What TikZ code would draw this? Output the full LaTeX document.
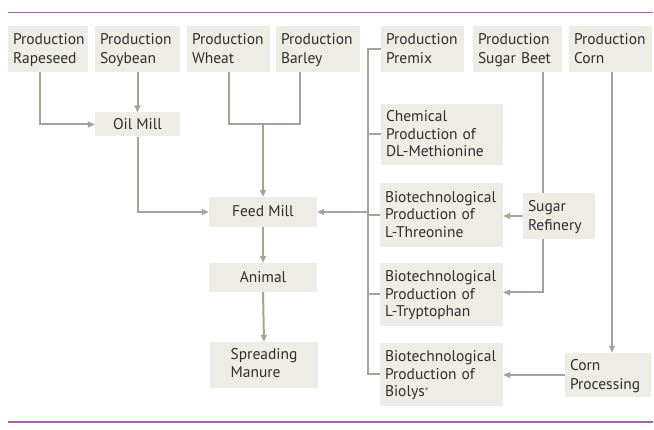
\documentclass[tikz,border=0pt]{standalone}
\usepackage{fontspec}
\setmainfont{PT Sans}
\usetikzlibrary{arrows.meta}
\definecolor{boxfill}{HTML}{EDEDE5}
\definecolor{linec}{HTML}{A5A39B}
\definecolor{purp}{HTML}{A566A8}
\definecolor{txt}{HTML}{2E2E2E}
\newcommand\boxstrut{\vrule height 14pt depth 4pt width 0pt}
\tikzset{
  box/.style={fill=boxfill, draw=none, inner xsep=5pt, inner ysep=0pt, align=left,
    font=\fontsize{15.5}{17.5}\selectfont, text=txt,
    execute at begin node=\boxstrut, execute at end node=\boxstrut},
  cbox/.style={box, align=center},
  conn/.style={draw=linec, line width=2pt},
  arr/.style={conn, -{Triangle[length=7pt,width=6pt]}},
  rule/.style={draw=purp, line width=1.5pt}
}
\begin{document}
\begin{tikzpicture}[x=1pt,y=-1pt]
\useasboundingbox[fill=white] (0,0) rectangle (654,430);
\draw[rule] (8,12.5) -- (653,12.5);
\draw[rule] (8,422) -- (653,422);

\node[box, text width=70pt, minimum height=46pt] (rape) at (48,49) {Production\\Rapeseed};
\node[box, text width=75pt, minimum height=46pt] (soy) at (137.5,49) {Production\\Soybean};
\node[box, text width=73pt, minimum height=46pt] (wheat) at (228.5,49) {Production\\Wheat};
\node[box, text width=74pt, minimum height=46pt] (barley) at (318,49) {Production\\Barley};
\node[box, text width=73pt, minimum height=46pt] (premix) at (422.5,49) {Production\\Premix};
\node[box, text width=79pt, minimum height=46pt] (beet) at (517.5,49) {Production\\Sugar Beet};
\node[box, text width=73pt, minimum height=46pt] (corn) at (610.5,49) {Production\\Corn};

\node[cbox, minimum width=85pt, minimum height=24pt] (oil) at (137.5,124.5) {Oil Mill};
\node[box, text width=112pt, minimum height=61pt] (chem) at (442,134.5) {Chemical\\Production of\\DL-Methionine};
\node[cbox, minimum width=108pt, minimum height=30pt] (feed) at (263,212) {Feed Mill};
\node[box, text width=113pt, minimum height=64pt] (threo) at (441.5,215) {Biotechnological\\Production of\\L-Threonine};
\node[box, text width=62pt, minimum height=46pt] (refin) at (559,216) {Sugar\\Refinery};
\node[cbox, minimum width=108pt, minimum height=29pt] (animal) at (263,277.5) {Animal};
\node[box, minimum width=108pt, minimum height=46pt] (manure) at (264,365) {Spreading\\Manure};
\node[box, text width=113pt, minimum height=63pt] (trypt) at (441.5,294.5) {Biotechnological\\Production of\\L-Tryptophan};
\node[box, text width=113pt, minimum height=63pt] (biolys) at (441.5,374.5) {Biotechnological\\Production of\\Biolys\textsuperscript{\raisebox{0pt}{\tiny\textregistered}}};
\node[box, text width=76pt, minimum height=44pt] (cproc) at (608,375) {Corn\\Processing};

\coordinate (wb) at (263,124);
\coordinate (bus) at (368,0);
\coordinate (sx) at (543,0);

% left side
\draw[arr] ([xshift=-8pt]rape.south) |- (oil.west);
\draw[arr] (soy.south) -- (oil.north);
\draw[arr] (oil.south) |- (feed.west);
\draw[conn] (wheat.south) |- (wb);
\draw[conn] ([xshift=-18pt]barley.south) |- (wb);
\draw[arr] (wb) -- (feed.north);
\draw[arr] (feed.south) -- (animal.north);
\draw[arr] (animal.south) -- (manure.north);

% bus
\draw[conn] (premix.west) -- (premix.west -| bus) -- (biolys.west -| bus) -- (biolys.west);
\draw[conn] (chem.west) -- (chem.west -| bus);
\draw[conn] (threo.west) -- (threo.west -| bus);
\draw[conn] (trypt.west) -- (trypt.west -| bus);
\draw[arr] (feed.east -| bus) -- (feed.east);

% right side
\draw[conn] (beet.south -| sx) -- (refin.north -| sx);
\draw[arr] (refin.south -| sx) |- ([yshift=2pt]trypt.east);
\draw[arr] (refin.west) -- (refin.west -| threo.east);
\draw[arr] ([xshift=1.5pt]corn.south) -- ([xshift=1.5pt]corn.south |- cproc.north);
\draw[arr] (cproc.west) -- (cproc.west -| biolys.east);
\end{tikzpicture}
\end{document}
